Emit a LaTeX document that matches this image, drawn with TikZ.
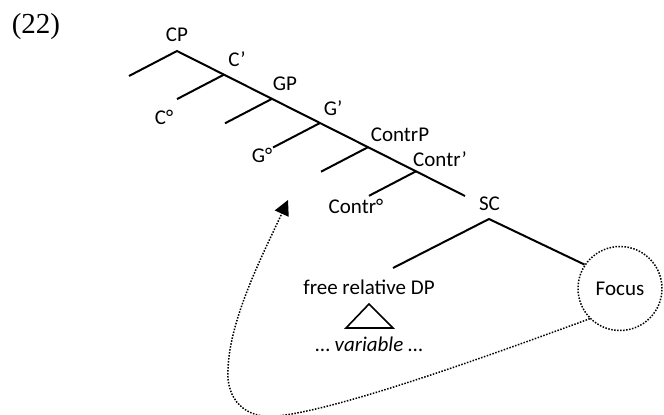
\documentclass[tikz,border=0pt]{standalone}
\usepackage{fontspec}
\setmainfont{Carlito}
\newfontfamily\timesfont{Liberation Serif}
\usetikzlibrary{arrows.meta}
\begin{document}
\begin{tikzpicture}[x=0.5pt,y=0.5pt,
  lbl/.style={inner sep=0pt, font=\fontsize{10.5}{12}\selectfont},
  tree/.style={line width=1pt},
  dots/.style={line width=0.75pt, dash pattern=on 0.75pt off 0.75pt},
  focuscirc/.style={circle, draw, dots, minimum size=42pt, inner sep=0pt, font=\fontsize{10.5}{12}\selectfont},
]
\useasboundingbox (0,0) rectangle (664,414);

% example number
\node[inner sep=0pt, font=\timesfont\fontsize{14.5}{16}\selectfont] (num) at (36,387) {(22)};

% labels
\node[lbl] (lcp) at (177,379) {CP};
\node[lbl] (lcbar) at (237,354.5) {C’};
\node[lbl] (lc0) at (164,297) {C°};
\node[lbl] (lgp) at (285,330) {GP};
\node[lbl] (lgbar) at (333,306) {G’};
\node[lbl] (lg0) at (262,259) {G°};
\node[lbl] (lcontrp) at (400,279.5) {ContrP};
\node[lbl] (lcontrbar) at (440,255) {Contr’};
\node[lbl] (lcontr0) at (356,208) {Contr°};
\node[lbl] (lsc) at (489.5,210.5) {SC};
\node[lbl] (ldp) at (369,127) {free relative DP};
\node[lbl] (lvar) at (369,70) {… \textit{variable} …};
\node[focuscirc] (focus) at (620,125.5) {Focus};

% tree points
\coordinate (cp) at (177,363);
\coordinate (cpl) at (129,338);
\coordinate (cbar) at (224,339.4);
\coordinate (c0) at (177,314.9);
\coordinate (gp) at (272,315.2);
\coordinate (g0spec) at (225,290.7);
\coordinate (gbar) at (320,291);
\coordinate (g0) at (273,266.5);
\coordinate (contrp) at (368,266.8);
\coordinate (contrspec) at (321,242.3);
\coordinate (contrbar) at (416,242.7);
\coordinate (contr0) at (369,218.2);
\coordinate (spineend) at (465,218);
\coordinate (sc) at (489,195);
\coordinate (scl) at (393,146);

% tree lines
\draw[tree] (cpl) -- (cp) -- (spineend);
\draw[tree] (cbar) -- (c0);
\draw[tree] (gp) -- (g0spec);
\draw[tree] (gbar) -- (g0);
\draw[tree] (contrp) -- (contrspec);
\draw[tree] (contrbar) -- (contr0);
\draw[tree] (scl) -- (sc) -- (focus.146);

% triangle
\coordinate (tria) at (369,110);
\coordinate (tril) at (346,86);
\coordinate (trir) at (393,86);
\draw[line width=0.8pt] (tria) -- (tril) -- (trir) -- cycle;

% dotted movement arrow
\coordinate (dlow) at (278,-2);
\coordinate (dleft) at (228,44);
\coordinate (tip) at (288,214);
\draw[dots, -{Triangle[length=7.5pt, width=7.5pt]}]
  (focus.-135) .. controls (480,55) and (340,5) .. (dlow)
  .. controls (245,-6) and (226,15) .. (dleft)
  .. controls (229,95) and (265,164) .. (tip);
\end{tikzpicture}
\end{document}
